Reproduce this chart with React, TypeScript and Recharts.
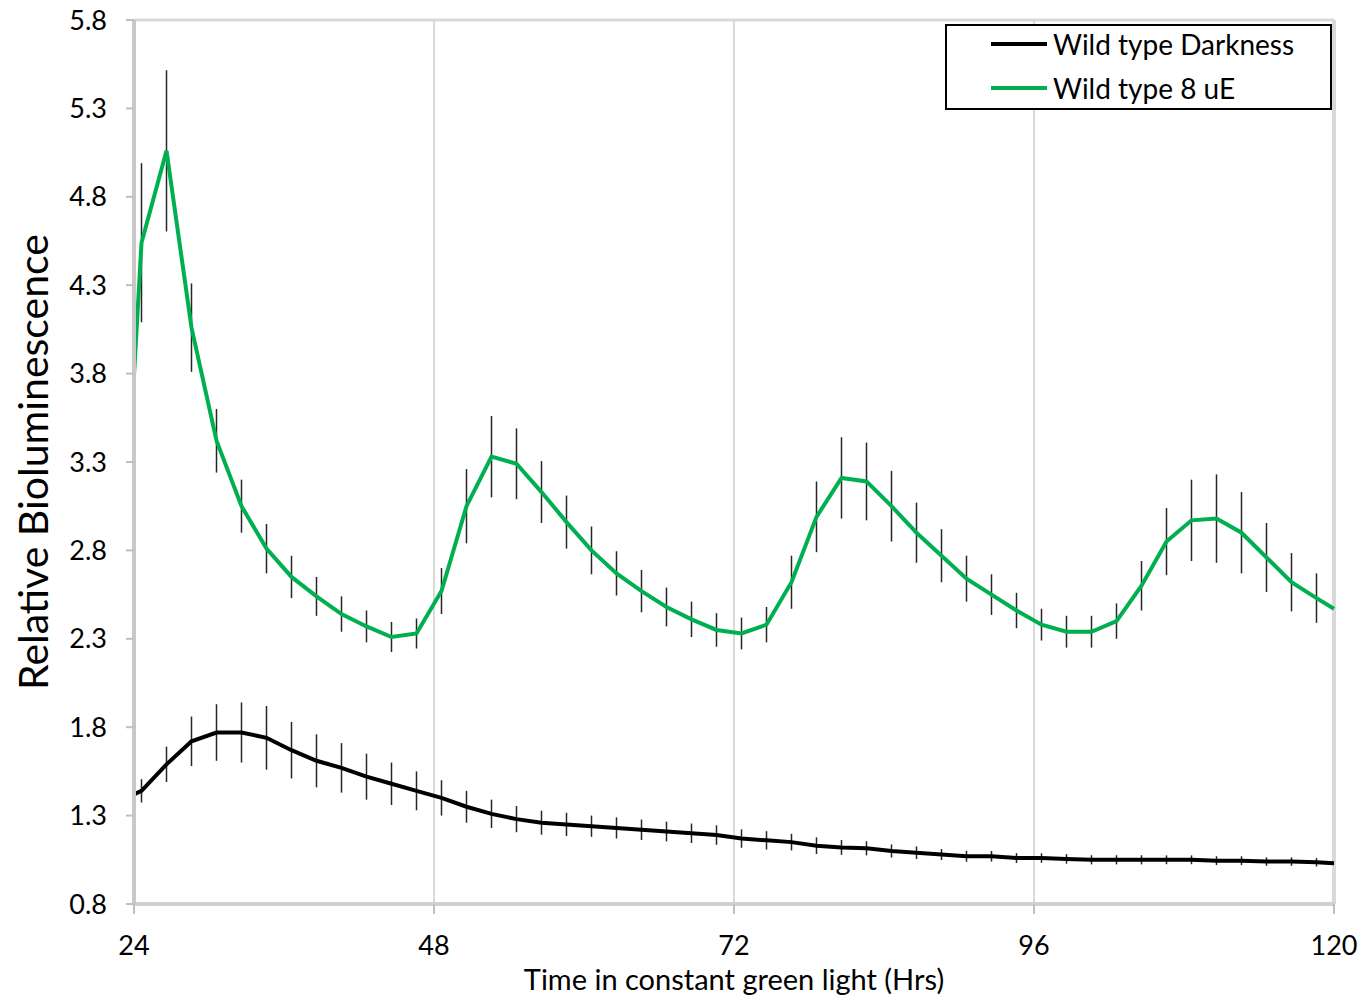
import { CartesianGrid, ErrorBar, Label, Legend, Line, LineChart, ReferenceLine, XAxis, YAxis } from "recharts"

const hours = [
  24, 24.6, 26.6, 28.6, 30.6, 32.6, 34.6, 36.6, 38.6, 40.6, 42.6, 44.6, 46.6, 48.6, 50.6, 52.6, 54.6,
  56.6, 58.6, 60.6, 62.6, 64.6, 66.6, 68.6, 70.6, 72.6, 74.6, 76.6, 78.6, 80.6, 82.6, 84.6, 86.6,
  88.6, 90.6, 92.6, 94.6, 96.6, 98.6, 100.6, 102.6, 104.6, 106.6, 108.6, 110.6, 112.6, 114.6,
  116.6, 118.6, 120,
]

const darkness = [
  1.42, 1.44, 1.59, 1.72, 1.77, 1.77, 1.74, 1.67, 1.61, 1.57, 1.52, 1.48, 1.44, 1.4, 1.35, 1.31, 1.28,
  1.26, 1.25, 1.24, 1.23, 1.22, 1.21, 1.2, 1.19, 1.17, 1.16, 1.15, 1.13, 1.12, 1.115, 1.1, 1.09,
  1.08, 1.07, 1.07, 1.06, 1.06, 1.055, 1.05, 1.05, 1.05, 1.05, 1.05, 1.045, 1.045, 1.04,
  1.04, 1.036, 1.03,
]

const darknessErr = [
  null, 0.066, 0.1, 0.14, 0.16, 0.17, 0.18, 0.16, 0.15, 0.14, 0.13, 0.12, 0.11, 0.1, 0.09, 0.08, 0.074,
  0.068, 0.066, 0.06, 0.06, 0.058, 0.056, 0.055, 0.055, 0.052, 0.052, 0.047, 0.047, 0.042, 0.04, 0.037, 0.036,
  0.031, 0.031, 0.03, 0.028, 0.027, 0.027, 0.026, 0.026, 0.026, 0.025, 0.025, 0.025, 0.025, 0.024,
  0.024, 0.024, null,
]

const greenLight = [
  3.79, 4.54, 5.06, 4.06, 3.42, 3.05, 2.81, 2.65, 2.54, 2.44, 2.37, 2.31, 2.33, 2.57, 3.05, 3.33, 3.29,
  3.13, 2.96, 2.8, 2.67, 2.57, 2.48, 2.41, 2.35, 2.33, 2.38, 2.62, 2.99, 3.21, 3.19, 3.05, 2.9,
  2.77, 2.64, 2.55, 2.46, 2.38, 2.34, 2.34, 2.4, 2.6, 2.85, 2.97, 2.98, 2.9, 2.76,
  2.62, 2.53, 2.47,
]

const greenLightErr = [
  null, 0.45, 0.456, 0.25, 0.18, 0.15, 0.14, 0.12, 0.11, 0.1, 0.09, 0.085, 0.085, 0.13, 0.21, 0.23, 0.2,
  0.175, 0.15, 0.135, 0.125, 0.12, 0.11, 0.1, 0.095, 0.09, 0.1, 0.15, 0.2, 0.23, 0.22, 0.2, 0.17,
  0.15, 0.13, 0.115, 0.1, 0.09, 0.09, 0.09, 0.1, 0.14, 0.19, 0.23, 0.25, 0.23, 0.195,
  0.165, 0.14, null,
]

const seriesNames = ["Wild type Darkness", "Wild type 8 uE"]
const xTicks = [24, 48, 72, 96, 120]
const yTicks = [0.8, 1.3, 1.8, 2.3, 2.8, 3.3, 3.8, 4.3, 4.8, 5.3, 5.8]

const data = hours.map((h, i) => ({
  hour: h,
  dark: darkness[i],
  darkErr: darknessErr[i],
  green: greenLight[i],
  greenErr: greenLightErr[i],
}))

const font = "Lato, 'Open Sans', sans-serif"

function YTitle(props: any) {
  const vb = props.viewBox
  const cy = vb.y + vb.height / 2
  return (
    <text x={48} y={cy} transform={`rotate(-90, 48, ${cy})`} textAnchor="middle" fontSize={41} fontFamily={font} fill="#000">
      Relative Bioluminescence
    </text>
  )
}

function XTitle(props: any) {
  const vb = props.viewBox
  return (
    <text x={vb.x + vb.width / 2} y={990} textAnchor="middle" fontSize={29} fontFamily={font} fill="#000">
      Time in constant green light (Hrs)
    </text>
  )
}

function LegendBox({ payload }: any) {
  // keep the series order, recharts sorts legend items by name
  const items = seriesNames
    .map((n) => (payload || []).find((p: any) => p.value === n))
    .filter(Boolean)
  return (
    <div
      style={{
        width: 387,
        height: 86,
        border: "2px solid #000",
        boxSizing: "border-box",
        background: "#fff",
        fontFamily: font,
        fontSize: 28,
        color: "#000",
      }}
    >
      <div style={{ marginTop: -4 }}>
        {items.map((p: any) => (
          <div key={p.value} style={{ display: "flex", alignItems: "center", height: 44 }}>
            <div style={{ marginLeft: 44, width: 56, height: 4, background: p.color }} />
            <span style={{ marginLeft: 6, whiteSpace: "nowrap" }}>{p.value}</span>
          </div>
        ))}
      </div>
    </div>
  )
}

export default function App() {
  return (
    <div style={{ position: "absolute", left: 0, top: 0, background: "#fff" }}>
      <LineChart width={1367} height={996} data={data} margin={{ top: 20, right: 33, bottom: 0, left: 0 }}>
        <CartesianGrid horizontal={false} stroke="#d9d9d9" strokeWidth={2} />
        <ReferenceLine y={5.8} stroke="#d9d9d9" strokeWidth={3} />
        <ReferenceLine x={120} stroke="#d9d9d9" strokeWidth={4} />
        <XAxis
          dataKey="hour"
          type="number"
          domain={[24, 120]}
          ticks={xTicks}
          height={92}
          tickSize={10}
          tickMargin={22}
          axisLine={{ stroke: "#d0d0d0", strokeWidth: 4 }}
          tickLine={{ stroke: "#bfbfbf", strokeWidth: 2 }}
          tick={{ fontSize: 27, fill: "#000", fontFamily: font }}
        >
          <Label content={<XTitle />} />
        </XAxis>
        <YAxis
          type="number"
          domain={[0.8, 5.8]}
          ticks={yTicks}
          width={134}
          tickSize={8}
          tickMargin={19}
          tickFormatter={(v: number) => v.toFixed(1)}
          axisLine={{ stroke: "#c8c8c8", strokeWidth: 4 }}
          tickLine={{ stroke: "#bfbfbf", strokeWidth: 2 }}
          tick={{ fontSize: 27, fill: "#000", fontFamily: font }}
        >
          <Label content={<YTitle />} />
        </YAxis>
        <Legend
          layout="horizontal"
          verticalAlign="middle"
          align="center"
          wrapperStyle={{ left: 945, top: 24, width: 387, height: 86 }}
          content={<LegendBox />}
        />
        <Line
          type="linear"
          dataKey="dark"
          name={seriesNames[0]}
          stroke="#000000"
          strokeWidth={4}
          dot={false}
          isAnimationActive={false}
        >
          <ErrorBar dataKey="darkErr" direction="y" width={0} stroke="#262626" strokeWidth={1.5} />
        </Line>
        <Line
          type="linear"
          dataKey="green"
          name={seriesNames[1]}
          stroke="#00b050"
          strokeWidth={4}
          dot={false}
          isAnimationActive={false}
        >
          <ErrorBar dataKey="greenErr" direction="y" width={0} stroke="#262626" strokeWidth={1.5} />
        </Line>
      </LineChart>
    </div>
  )
}
